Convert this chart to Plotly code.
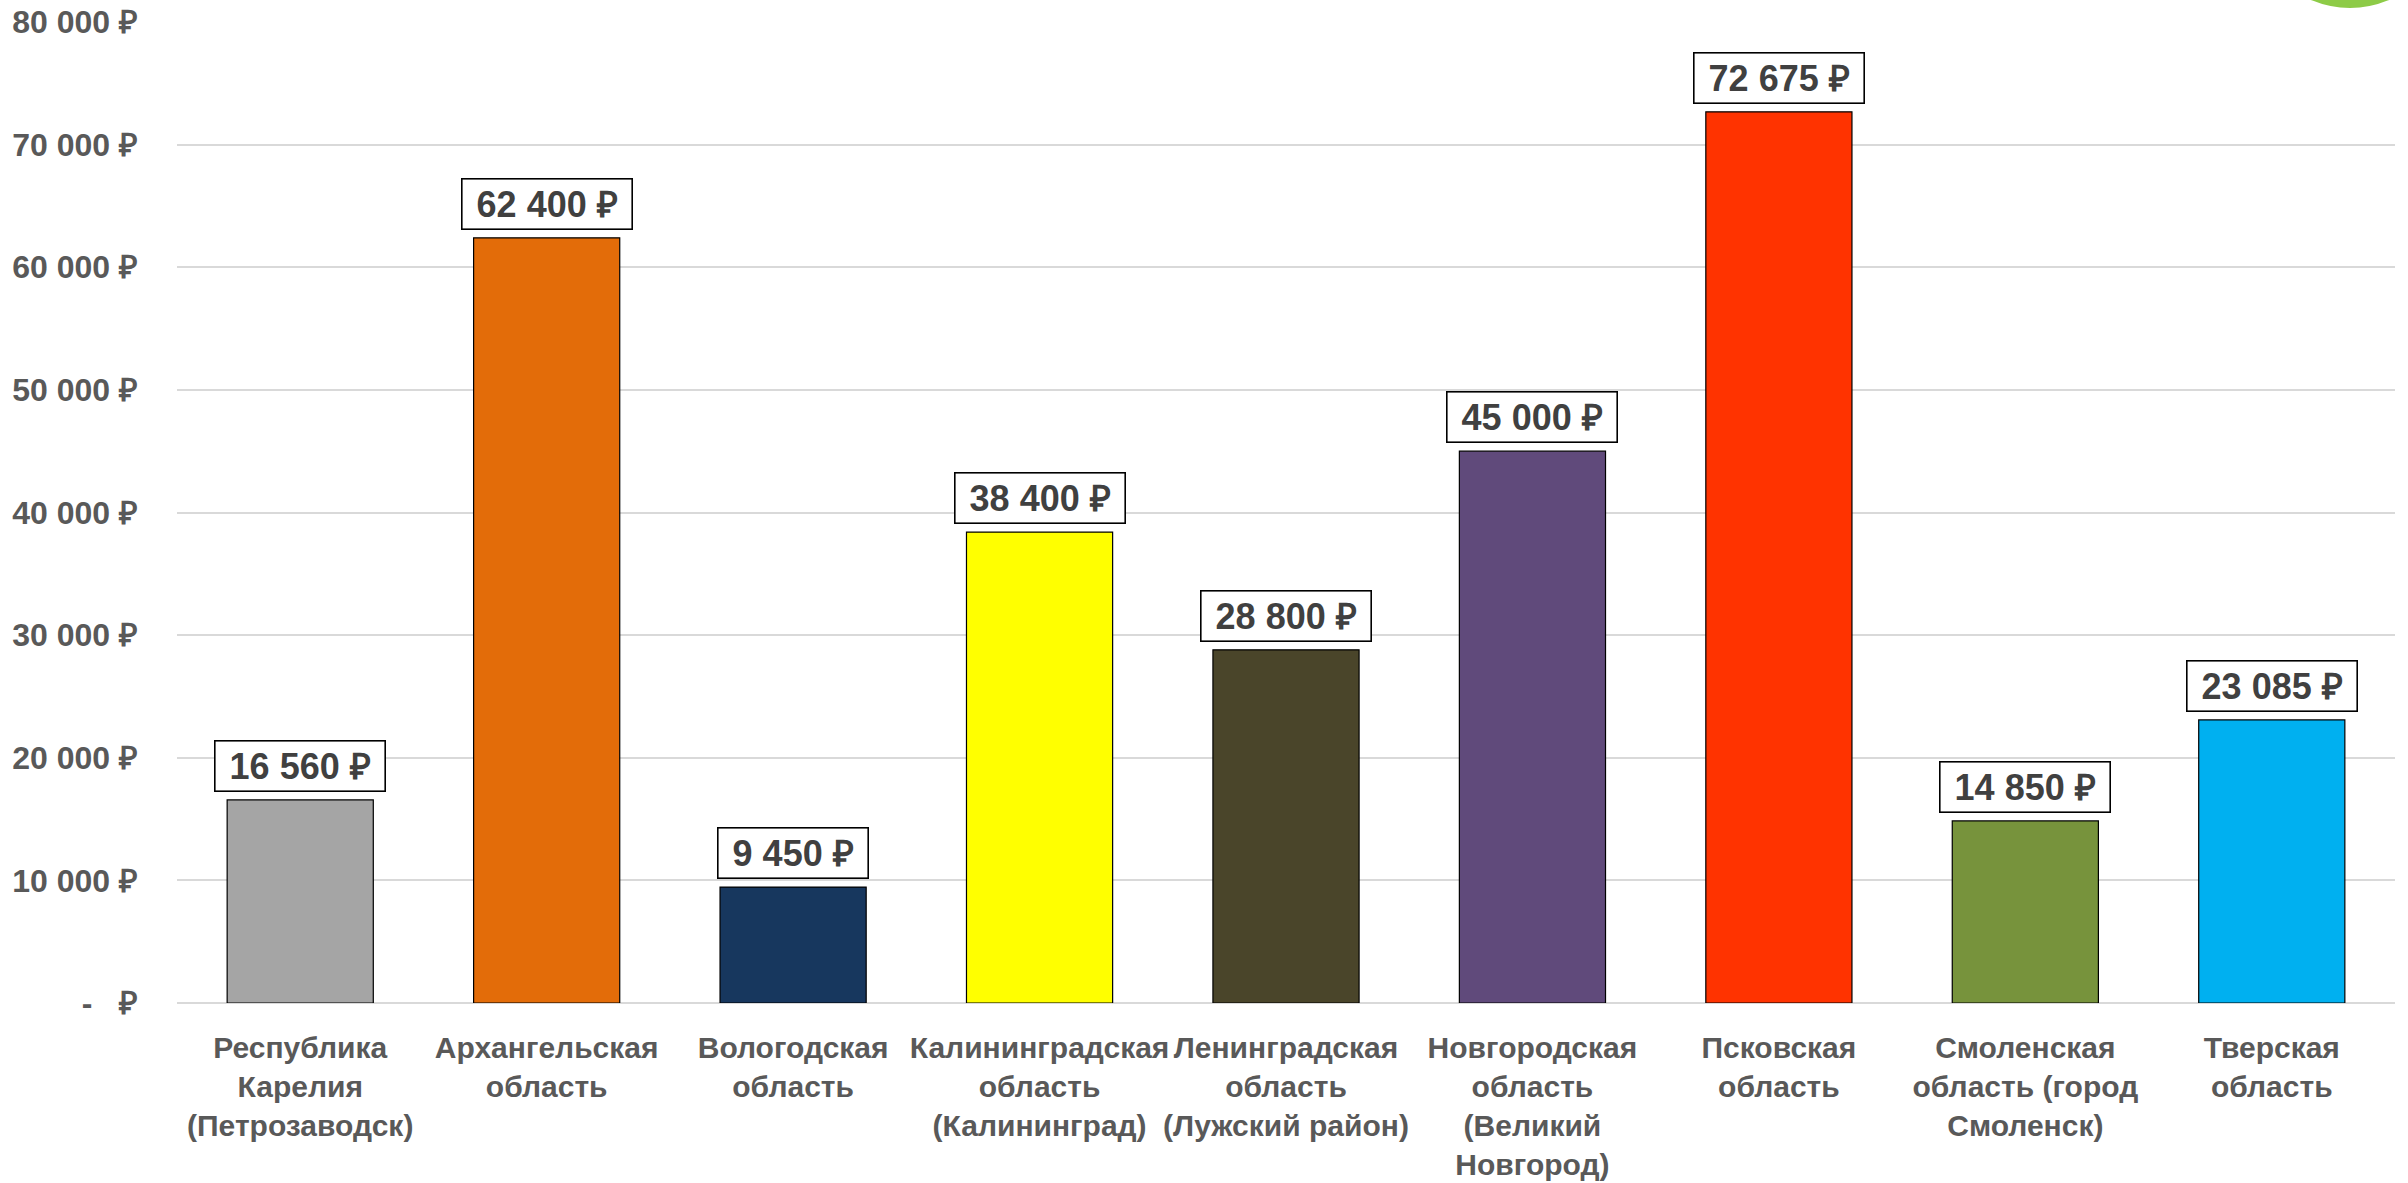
import plotly.graph_objects as go

categories = [
    "Республика<br>Карелия<br>(Петрозаводск)",
    "Архангельская<br>область",
    "Вологодская<br>область",
    "Калининградская<br>область<br>(Калининград)",
    "Ленинградская<br>область<br>(Лужский район)",
    "Новгородская<br>область<br>(Великий<br>Новгород)",
    "Псковская<br>область",
    "Смоленская<br>область (город<br>Смоленск)",
    "Тверская<br>область",
]
values = [16560, 62400, 9450, 38400, 28800, 45000, 72675, 14850, 23085]
bar_colors = ["#A5A5A5", "#E36C09", "#17375E", "#FFFF00", "#4A452A",
              "#604A7B", "#FF3300", "#77933C", "#00B0F0"]
tick_vals = [0, 10000, 20000, 30000, 40000, 50000, 60000, 70000, 80000]
tick_text = ["-\u00a0\u00a0\u00a0₽", "10 000 ₽", "20 000 ₽", "30 000 ₽", "40 000 ₽",
             "50 000 ₽", "60 000 ₽", "70 000 ₽", "80 000 ₽"]


def fmt(v):
    return f"{v:,}".replace(",", " ") + " ₽"


W, H = 2408, 1183
# plot area in screen pixels (body margin removed by the post script)
PX0, PX1, PY0, PY1 = 177, 2395, 22, 1003
L, T, R, B = PX0, PY0, W - PX1, H - PY1

fig = go.Figure()
fig.add_trace(go.Bar(
    x=list(range(len(categories))),
    y=values,
    marker=dict(color=bar_colors, line=dict(color="#000000", width=1.2)),
    hoverinfo="skip",
))

for i, v in enumerate(values):
    fig.add_annotation(
        x=i, y=v, xref="x", yref="y",
        text="\u00a0" + fmt(v) + "\u00a0",
        showarrow=False, yanchor="bottom", yshift=8,
        font=dict(family="Liberation Sans, Arial, sans-serif", size=36,
                  color="#404040", weight="bold"),
        bgcolor="#FFFFFF", bordercolor="#000000", borderwidth=1.6, borderpad=4,
    )

pw, ph = PX1 - PX0, PY1 - PY0
def px_x(p):
    return (p - PX0) / pw
def px_y(p):
    return (PY1 - p) / ph
# green decorative circle at top right (partially cut off)
fig.add_shape(type="circle", xref="paper", yref="paper",
              x0=px_x(2250), x1=px_x(2450), y0=px_y(8), y1=px_y(-193),
              fillcolor="#8DCB47", line=dict(width=0), layer="above")

fig.update_layout(
    width=W, height=H, autosize=False,
    margin=dict(l=L, r=R, t=T, b=B, pad=0, autoexpand=False),
    paper_bgcolor="#FFFFFF", plot_bgcolor="#FFFFFF",
    bargap=0.407,
    showlegend=False,
    font=dict(family="Liberation Sans, Arial, sans-serif", color="#595959"),
)
fig.update_xaxes(
    tickmode="array", tickvals=list(range(len(categories))), ticktext=categories,
    range=[-0.5, len(categories) - 0.5], automargin=False,
    tickfont=dict(size=30, color="#595959", weight="bold"),
    showgrid=False, zeroline=False, showline=False, ticks="",
    ticklabelstandoff=24, tickangle=0, ticklabeloverflow="allow",
)
fig.update_yaxes(
    range=[0, 80000], tickmode="array", tickvals=tick_vals, ticktext=tick_text,
    automargin=False,
    tickfont=dict(size=32, color="#595959", weight="bold"),
    showgrid=True, gridcolor="#D9D9D9", gridwidth=2,
    zeroline=True, zerolinecolor="#D9D9D9", zerolinewidth=2,
    showline=False, ticks="", ticklabelstandoff=38, ticklabeloverflow="allow",
)

fig.write_html(
    "out.html",
    config={"displayModeBar": False},
    post_script="document.body.style.margin='0';document.body.style.overflow='hidden';",
)
